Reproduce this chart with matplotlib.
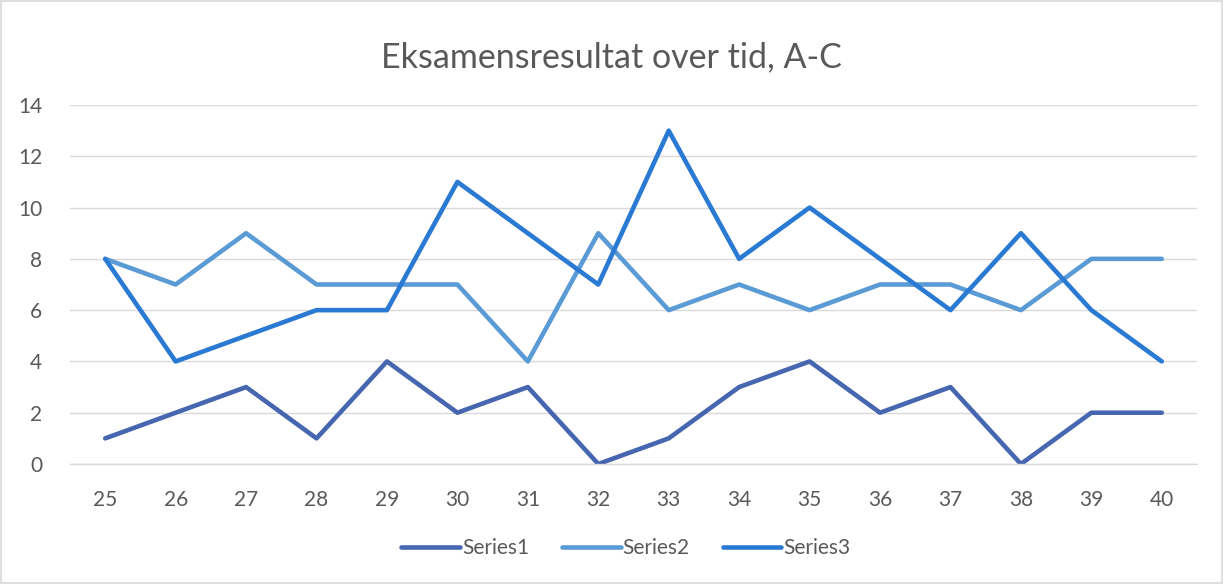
import matplotlib
matplotlib.use("Agg")
import matplotlib.pyplot as plt
from matplotlib.patches import Rectangle

plt.rcParams['font.family'] = ['Lato', 'DejaVu Sans']

categories = list(range(25, 41))
series1 = [1, 2, 3, 1, 4, 2, 3, 0, 1, 3, 4, 2, 3, 0, 2, 2]
series2 = [8, 7, 9, 7, 7, 7, 4, 9, 6, 7, 6, 7, 7, 6, 8, 8]
series3 = [8, 4, 5, 6, 6, 11, 9, 7, 13, 8, 10, 8, 6, 9, 6, 4]
series_names = ["Series1", "Series2", "Series3"]
colors = ["#4666B0", "#5B9BD5", "#2A7AD3"]
yticks = [0, 2, 4, 6, 8, 10, 12, 14]
title = "Eksamensresultat over tid, A-C"

W, H = 1223, 584
fig = plt.figure(figsize=(W / 100, H / 100), dpi=100)
fig.patches.append(Rectangle((1 / W, 1 / H), 1 - 2 / W, 1 - 2 / H, transform=fig.transFigure,
                             fill=False, edgecolor="#D9D9D9", linewidth=1.2))

ax = fig.add_axes([70 / W, 1 - 464 / H, (1197 - 70) / W, (464 - 105) / H])
xs = list(range(len(categories)))
for vals, name, c in zip([series1, series2, series3], series_names, colors):
    ax.plot(xs, vals, color=c, linewidth=3.3, solid_capstyle="round",
            solid_joinstyle="round", label=name)

ax.set_xlim(-0.5, len(categories) - 0.5)
ax.set_ylim(0, 14)
ax.set_yticks(yticks)
ax.set_xticks(xs)
ax.set_xticklabels([str(c) for c in categories])
ax.grid(axis="y", color="#D9D9D9", linewidth=1.0)
ax.set_axisbelow(True)
for s in ["top", "right", "left"]:
    ax.spines[s].set_visible(False)
ax.spines["bottom"].set_color("#D9D9D9")
ax.spines["bottom"].set_linewidth(1.0)
ax.tick_params(axis="both", length=0, labelsize=15, labelcolor="#595959")
ax.tick_params(axis="y", pad=20)
ax.tick_params(axis="x", pad=19)

fig.text(611 / W, 1 - 57 / H, title, ha="center", va="center", fontsize=24.5, color="#595959")

leg = fig.legend(loc="center", bbox_to_anchor=(626 / W, 1 - 548 / H), ncol=3, frameon=False,
                 fontsize=15, handlelength=2.8, handletextpad=0.1, columnspacing=1.6)
for t in leg.get_texts():
    t.set_color("#595959")

fig.savefig("out.png", dpi=100)
